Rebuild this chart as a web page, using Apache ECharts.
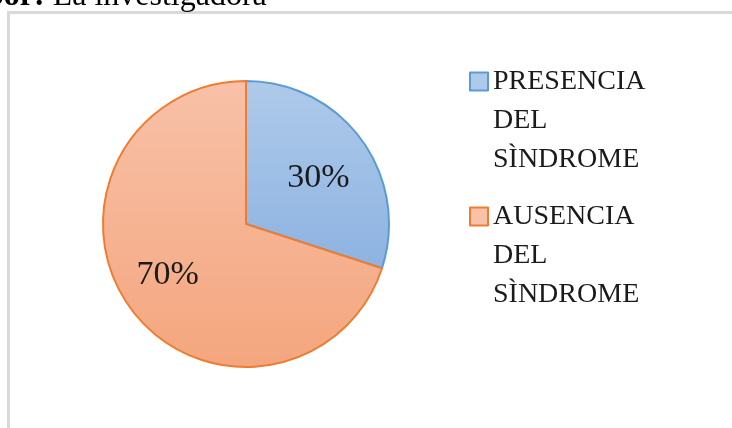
<!DOCTYPE html>
<html>
<head>
<meta charset="UTF-8">
<script src="https://cdn.jsdelivr.net/npm/echarts@6/dist/echarts.min.js"></script>
<style>
  body { margin: 0; background: #fff; }
  #chart { width: 732px; height: 428px; }
</style>
</head>
<body>
<div id="chart"></div>
<script>
// Data
const categories = ['PRESENCIA DEL SÌNDROME', 'AUSENCIA DEL SÌNDROME']
const values = [30, 70]

// Excel-like palette: light fill gradient + strong border
const fillTop = ['#aecaea', '#f8c1a8']
const fillBottom = ['#8db3e1', '#f4a67e']
const borders = ['#5b9bd5', '#ed7d31']
// small nudges for the percentage labels
const labelNudge = [[-2, 8], [-4, -3]]

const serif = '"Liberation Serif", "DejaVu Serif", serif'

const pieData = categories.map((name, i) => ({
  name,
  value: values[i],
  itemStyle: {
    color: new echarts.graphic.LinearGradient(0, 0, 0, 1, [
      { offset: 0, color: fillTop[i] },
      { offset: 1, color: fillBottom[i] }
    ]),
    borderColor: borders[i],
    borderWidth: 2
  }
}))

const chart = echarts.init(document.getElementById('chart'))
chart.setOption({
  animation: false,
  graphic: [
    {
      type: 'rect',
      shape: { x: 8.5, y: 12.5, width: 800, height: 500 },
      style: { fill: 'none', stroke: '#d9d9d9', lineWidth: 3 },
      silent: true
    },
    {
      type: 'text',
      x: -14,
      y: 13,
      style: {
        text: '{b|bor:} La investigadora',
        font: '32px ' + serif,
        fill: '#000',
        verticalAlign: 'bottom',
        rich: { b: { fontWeight: 'bold', fontSize: 32, fontFamily: serif } }
      },
      silent: true
    }
  ],
  legend: {
    orient: 'vertical',
    left: 469,
    top: -16,
    padding: 0,
    itemGap: -60,
    itemWidth: 18,
    itemHeight: 18,
    icon: 'rect',
    selectedMode: false,
    data: categories.map((name, i) => ({
      name,
      itemStyle: { color: fillTop[i], borderColor: borders[i], borderWidth: 2 }
    })),
    // two blank lines first so the first word sits level with the marker
    formatter: name => '\n\n' + name.split(' ').join('\n'),
    textStyle: {
      fontFamily: serif,
      fontSize: 28,
      lineHeight: 39,
      color: '#1a1a1a'
    }
  },
  series: [
    {
      type: 'pie',
      center: [246, 224],
      radius: [0, 143],
      startAngle: 90,
      clockwise: true,
      silent: true,
      label: { show: false },
      labelLine: { show: false },
      data: pieData
    },
    {
      // label carrier: same slices, larger radius so labels sit further out
      type: 'pie',
      center: [246, 224],
      radius: [0, 178],
      startAngle: 90,
      clockwise: true,
      silent: true,
      itemStyle: { color: 'transparent', borderWidth: 0 },
      label: {
        show: true,
        position: 'inside',
        formatter: '{d}%',
        fontFamily: serif,
        fontSize: 34,
        color: '#1a1a1a'
      },
      labelLine: { show: false },
      data: categories.map((name, i) => ({
        name,
        value: values[i],
        label: { offset: labelNudge[i] }
      }))
    }
  ]
})
</script>
</body>
</html>
